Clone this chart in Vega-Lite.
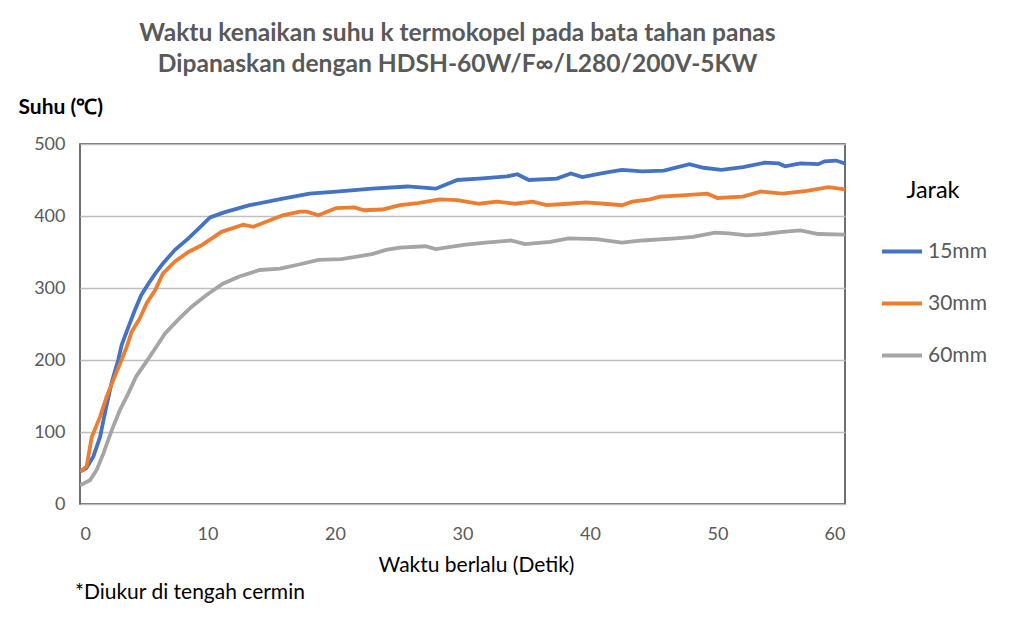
{
  "$schema": "https://vega.github.io/schema/vega-lite/v6.json",
  "width": 765,
  "height": 360,
  "autosize": {"type": "none"},
  "padding": {"left": 80, "top": 144, "right": 179, "bottom": 117},
  "background": "white",
  "config": {"view": {"stroke": "#404040", "strokeWidth": 1.5}, "font": "Lato"},
  "title": {
    "text": ["Waktu kenaikan suhu k termokopel pada bata tahan panas", "Dipanaskan dengan HDSH-60W/F∞/L280/200V-5KW"],
    "fontSize": 24.6, "fontWeight": "bold", "color": "#595959", "anchor": "middle", "frame": "group",
    "offset": 18, "lineHeight": 31, "font": "Lato", "dx": -5
  },
  "datasets": {
    "curves": [
      {"t":0,"v":45,"s":"15mm"},{"t":0.5,"v":50,"s":"15mm"},{"t":1.05,"v":66,"s":"15mm"},{"t":1.57,"v":93,"s":"15mm"},{"t":2.0,"v":130,"s":"15mm"},{"t":2.5,"v":170,"s":"15mm"},{"t":3.0,"v":200,"s":"15mm"},{"t":3.27,"v":221,"s":"15mm"},{"t":3.8,"v":246,"s":"15mm"},{"t":4.3,"v":269,"s":"15mm"},{"t":4.8,"v":290,"s":"15mm"},{"t":5.36,"v":306,"s":"15mm"},{"t":5.9,"v":320,"s":"15mm"},{"t":6.5,"v":334,"s":"15mm"},{"t":7.45,"v":353,"s":"15mm"},{"t":8.5,"v":369,"s":"15mm"},{"t":9.5,"v":386,"s":"15mm"},{"t":10.2,"v":398,"s":"15mm"},{"t":11.3,"v":405,"s":"15mm"},{"t":13.3,"v":415,"s":"15mm"},{"t":15.9,"v":424,"s":"15mm"},{"t":18,"v":431,"s":"15mm"},{"t":20.1,"v":434,"s":"15mm"},{"t":22.9,"v":438,"s":"15mm"},{"t":25.7,"v":441,"s":"15mm"},{"t":27.9,"v":438,"s":"15mm"},{"t":29.6,"v":450,"s":"15mm"},{"t":31.3,"v":452,"s":"15mm"},{"t":33.5,"v":455,"s":"15mm"},{"t":34.3,"v":458,"s":"15mm"},{"t":35.2,"v":450,"s":"15mm"},{"t":37.4,"v":452,"s":"15mm"},{"t":38.5,"v":459,"s":"15mm"},{"t":39.4,"v":454,"s":"15mm"},{"t":41.1,"v":460,"s":"15mm"},{"t":42.5,"v":464,"s":"15mm"},{"t":44.1,"v":462,"s":"15mm"},{"t":45.8,"v":463,"s":"15mm"},{"t":47.8,"v":472,"s":"15mm"},{"t":48.9,"v":467,"s":"15mm"},{"t":50.3,"v":464,"s":"15mm"},{"t":52,"v":468,"s":"15mm"},{"t":53.7,"v":474,"s":"15mm"},{"t":54.8,"v":473,"s":"15mm"},{"t":55.3,"v":469,"s":"15mm"},{"t":56.5,"v":473,"s":"15mm"},{"t":57.9,"v":472,"s":"15mm"},{"t":58.4,"v":476,"s":"15mm"},{"t":59.3,"v":477,"s":"15mm"},{"t":60,"v":473,"s":"15mm"},
      {"t":0,"v":45,"s":"30mm"},{"t":0.52,"v":52,"s":"30mm"},{"t":0.92,"v":93,"s":"30mm"},{"t":1.57,"v":121,"s":"30mm"},{"t":2.09,"v":149,"s":"30mm"},{"t":2.61,"v":172,"s":"30mm"},{"t":3.14,"v":195,"s":"30mm"},{"t":3.66,"v":218,"s":"30mm"},{"t":4.05,"v":239,"s":"30mm"},{"t":4.7,"v":258,"s":"30mm"},{"t":5.23,"v":279,"s":"30mm"},{"t":5.9,"v":297,"s":"30mm"},{"t":6.5,"v":320,"s":"30mm"},{"t":7.45,"v":337,"s":"30mm"},{"t":8.5,"v":350,"s":"30mm"},{"t":9.5,"v":359,"s":"30mm"},{"t":11.1,"v":378,"s":"30mm"},{"t":12.8,"v":388,"s":"30mm"},{"t":13.6,"v":385,"s":"30mm"},{"t":15.9,"v":401,"s":"30mm"},{"t":17.25,"v":406,"s":"30mm"},{"t":17.8,"v":406,"s":"30mm"},{"t":18.7,"v":401,"s":"30mm"},{"t":20.1,"v":411,"s":"30mm"},{"t":21.5,"v":412,"s":"30mm"},{"t":22.3,"v":408,"s":"30mm"},{"t":23.7,"v":409,"s":"30mm"},{"t":25.1,"v":415,"s":"30mm"},{"t":26.5,"v":418,"s":"30mm"},{"t":28.2,"v":423,"s":"30mm"},{"t":29.6,"v":422,"s":"30mm"},{"t":31.3,"v":417,"s":"30mm"},{"t":32.7,"v":420,"s":"30mm"},{"t":34.1,"v":417,"s":"30mm"},{"t":35.5,"v":420,"s":"30mm"},{"t":36.6,"v":415,"s":"30mm"},{"t":38.3,"v":417,"s":"30mm"},{"t":39.7,"v":419,"s":"30mm"},{"t":41.1,"v":417,"s":"30mm"},{"t":42.5,"v":415,"s":"30mm"},{"t":43.3,"v":420,"s":"30mm"},{"t":44.7,"v":423,"s":"30mm"},{"t":45.5,"v":427,"s":"30mm"},{"t":47.5,"v":429,"s":"30mm"},{"t":49.2,"v":431,"s":"30mm"},{"t":50,"v":425,"s":"30mm"},{"t":52,"v":427,"s":"30mm"},{"t":53.4,"v":434,"s":"30mm"},{"t":55.1,"v":431,"s":"30mm"},{"t":57,"v":435,"s":"30mm"},{"t":58.7,"v":440,"s":"30mm"},{"t":60,"v":437,"s":"30mm"},
      {"t":0,"v":26,"s":"60mm"},{"t":0.78,"v":33,"s":"60mm"},{"t":1.3,"v":47,"s":"60mm"},{"t":1.83,"v":70,"s":"60mm"},{"t":2.5,"v":103,"s":"60mm"},{"t":3.14,"v":131,"s":"60mm"},{"t":3.8,"v":154,"s":"60mm"},{"t":4.4,"v":177,"s":"60mm"},{"t":5.1,"v":195,"s":"60mm"},{"t":5.9,"v":216,"s":"60mm"},{"t":6.67,"v":237,"s":"60mm"},{"t":7.7,"v":256,"s":"60mm"},{"t":8.76,"v":274,"s":"60mm"},{"t":9.9,"v":290,"s":"60mm"},{"t":11.2,"v":306,"s":"60mm"},{"t":12.5,"v":316,"s":"60mm"},{"t":14.1,"v":325,"s":"60mm"},{"t":15.7,"v":327,"s":"60mm"},{"t":17.25,"v":333,"s":"60mm"},{"t":18.7,"v":339,"s":"60mm"},{"t":20.5,"v":340,"s":"60mm"},{"t":22.9,"v":347,"s":"60mm"},{"t":24,"v":353,"s":"60mm"},{"t":25.1,"v":356,"s":"60mm"},{"t":27.1,"v":358,"s":"60mm"},{"t":27.9,"v":354,"s":"60mm"},{"t":30.1,"v":360,"s":"60mm"},{"t":31.8,"v":363,"s":"60mm"},{"t":33.8,"v":366,"s":"60mm"},{"t":34.9,"v":361,"s":"60mm"},{"t":36.9,"v":364,"s":"60mm"},{"t":38.3,"v":369,"s":"60mm"},{"t":40.5,"v":368,"s":"60mm"},{"t":42.5,"v":363,"s":"60mm"},{"t":44.1,"v":366,"s":"60mm"},{"t":46.7,"v":369,"s":"60mm"},{"t":48.1,"v":371,"s":"60mm"},{"t":49.8,"v":377,"s":"60mm"},{"t":50.9,"v":376,"s":"60mm"},{"t":52.3,"v":373,"s":"60mm"},{"t":53.7,"v":375,"s":"60mm"},{"t":55.1,"v":378,"s":"60mm"},{"t":56.5,"v":380,"s":"60mm"},{"t":57.9,"v":375,"s":"60mm"},{"t":60,"v":374,"s":"60mm"}
    ],
    "note": [{"label": "*Diukur di tengah cermin"}]
  },
  "layer": [
    {
      "data": {"name": "curves"},
      "mark": {"type": "line", "strokeWidth": 3.8, "clip": true},
      "encoding": {
        "x": {
          "field": "t", "type": "quantitative",
          "scale": {"domain": [0, 60], "nice": false, "zero": false},
          "axis": {
            "title": "Waktu berlalu (Detik)", "values": [0, 10, 20, 30, 40, 50, 60],
            "grid": false, "ticks": false, "domain": false,
            "labelFontSize": 18, "labelColor": "#595959", "labelPadding": 21, "labelFont": "Lato",
            "titleFontSize": 21, "titleColor": "#000000", "titleFontWeight": "normal", "titlePadding": 11, "titleFont": "Lato",
            "titleX": 396
          }
        },
        "y": {
          "field": "v", "type": "quantitative",
          "scale": {"domain": [0, 500], "nice": false},
          "axis": {
            "title": "Suhu (℃)", "values": [0, 100, 200, 300, 400, 500],
            "titleAngle": 0, "titleAlign": "left", "titleBaseline": "middle", "titleX": -62, "titleY": -37,
            "titleFontSize": 21, "titleFontWeight": "bold", "titleColor": "#000000", "titleFont": "Lato",
            "labelFontSize": 18, "labelColor": "#595959", "labelPadding": 15, "labelFont": "Lato",
            "ticks": false, "domain": false, "gridColor": "#BFBFBF", "gridWidth": 1.5
          }
        },
        "color": {
          "field": "s", "type": "nominal",
          "scale": {"domain": ["15mm", "30mm", "60mm"], "range": ["#4472C4", "#ED7D31", "#A5A5A5"]},
          "legend": {
            "title": "Jarak", "orient": "none", "legendX": 800, "legendY": 35, "padding": 0,
            "titleFontSize": 23.5, "titleFontWeight": "normal", "titleColor": "#000000", "titleAnchor": "middle", "titleFont": "Lato",
            "titlePadding": 27,
            "symbolType": "stroke", "symbolSize": 1600, "symbolStrokeWidth": 4,
            "labelFontSize": 21, "labelColor": "#595959", "labelOffset": 4, "labelFont": "Lato",
            "rowPadding": 20
          }
        }
      }
    },
    {
      "data": {"name": "note"},
      "mark": {"type": "text", "align": "left", "baseline": "middle", "fontSize": 21, "color": "#000000", "dx": -5, "font": "Lato"},
      "encoding": {
        "x": {"datum": 0},
        "y": {"datum": -124},
        "text": {"field": "label", "type": "nominal"}
      }
    }
  ]
}
